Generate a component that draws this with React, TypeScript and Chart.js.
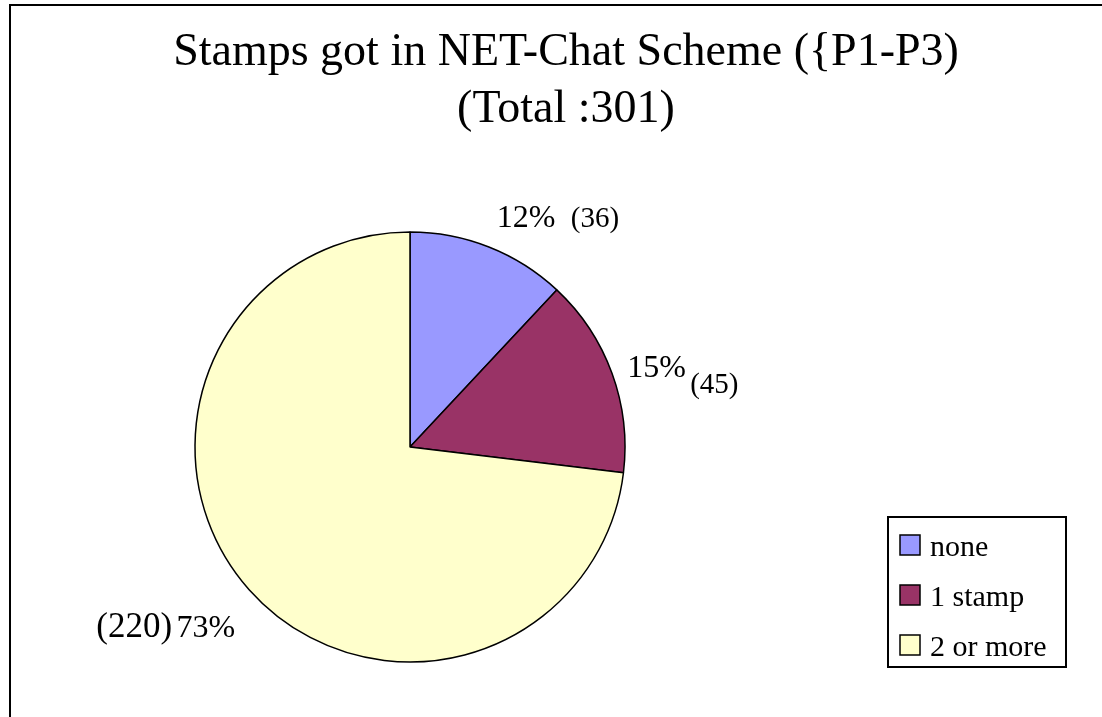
import React, { useEffect, useRef } from "react";
import { Chart, registerables } from "chart.js";
Chart.register(...registerables);

const categories = ["none", "1 stamp", "2 or more"];
const counts = [36, 45, 220];
const percentLabels = ["12%", "15%", "73%"];
const colors = ["#9999FF", "#993366", "#FFFFCC"];
const titleLines = ["Stamps got in NET-Chat Scheme ({P1-P3)", "(Total :301)"];

const SERIF = '"Liberation Serif", "Times New Roman", serif';

const decorPlugin = {
  id: "decor",
  afterDraw(chart: any) {
    const ctx = chart.ctx as CanvasRenderingContext2D;
    ctx.save();
    // frame
    ctx.strokeStyle = "#000";
    ctx.lineWidth = 2;
    ctx.beginPath();
    ctx.moveTo(10, 717);
    ctx.lineTo(10, 5);
    ctx.lineTo(1102, 5);
    ctx.stroke();

    // title
    ctx.fillStyle = "#000";
    ctx.textAlign = "center";
    ctx.textBaseline = "alphabetic";
    ctx.font = `46px ${SERIF}`;
    ctx.fillText(titleLines[0], 566, 65);
    ctx.fillText(titleLines[1], 566, 122);

    // data labels
    const meta = chart.getDatasetMeta(0);
    const anchors = meta.data.map((arc: any) => {
      const a = (arc.startAngle + arc.endAngle) / 2;
      const rr = arc.outerRadius * 1.1;
      return { x: arc.x + rr * Math.cos(a), y: arc.y + rr * Math.sin(a) };
    });
    const p0 = anchors[0];
    ctx.textAlign = "left";
    ctx.font = `32px ${SERIF}`;
    ctx.fillText(percentLabels[0], p0.x, p0.y);
    ctx.font = `29px ${SERIF}`;
    ctx.fillText(`(${counts[0]})`, p0.x + 74, p0.y);

    const p1 = anchors[1];
    ctx.font = `32px ${SERIF}`;
    ctx.fillText(percentLabels[1], p1.x - 5, p1.y + 11);
    ctx.font = `29px ${SERIF}`;
    ctx.fillText(`(${counts[1]})`, p1.x + 58, p1.y + 27);

    const p2 = anchors[2];
    ctx.textAlign = "right";
    ctx.font = `32px ${SERIF}`;
    ctx.fillText(percentLabels[2], p2.x + 2, p2.y + 33);
    ctx.font = `35px ${SERIF}`;
    ctx.fillText(`(${counts[2]})`, p2.x - 61, p2.y + 33);

    // legend
    ctx.lineWidth = 2;
    ctx.strokeStyle = "#000";
    ctx.fillStyle = "#fff";
    ctx.fillRect(888, 517, 178, 150);
    ctx.strokeRect(888, 517, 178, 150);
    ctx.textAlign = "left";
    ctx.textBaseline = "alphabetic";
    ctx.font = `30px ${SERIF}`;
    categories.forEach((c, i) => {
      const y = 535 + i * 50;
      ctx.fillStyle = colors[i];
      ctx.fillRect(900, y, 20, 20);
      ctx.lineWidth = 1.5;
      ctx.strokeStyle = "#000";
      ctx.strokeRect(900, y, 20, 20);
      ctx.fillStyle = "#000";
      ctx.fillText(c, 930, y + 21);
    });
    ctx.restore();
  },
};

export default function App() {
  const ref = useRef<HTMLCanvasElement>(null);
  useEffect(() => {
    if (!ref.current) return;
    const chart = new Chart(ref.current, {
      type: "pie",
      data: {
        labels: categories,
        datasets: [
          {
            data: counts,
            backgroundColor: colors,
            borderColor: "#000",
            borderWidth: 1.5,
          },
        ],
      },
      options: {
        responsive: false,
        animation: false,
        radius: 215,
        layout: { padding: { left: 195, right: 477, top: 232, bottom: 55 } },
        plugins: {
          legend: { display: false },
          title: { display: false },
          tooltip: { enabled: false },
        },
      },
      plugins: [decorPlugin],
    });
    return () => chart.destroy();
  }, []);
  return (
    <div style={{ position: "fixed", left: 0, top: 0, width: 1102, height: 717, background: "#fff" }}>
      <canvas ref={ref} width={1102} height={717} />
    </div>
  );
}
